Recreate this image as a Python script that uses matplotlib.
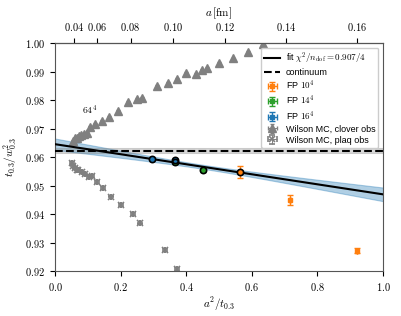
import numpy as np
import matplotlib
matplotlib.use("Agg")
import matplotlib.pyplot as plt
from matplotlib.ticker import FuncFormatter, MultipleLocator

plt.rcParams['mathtext.fontset'] = 'cm'
plt.rcParams['font.family'] = ['Liberation Sans', 'DejaVu Sans']

# ---- data ----
t0_fm2 = 0.0278  # t_0.3 in fm^2 (for top axis)

clover_x = [0.054, 0.060, 0.066, 0.074, 0.080, 0.088, 0.097, 0.107, 0.122, 0.142,
            0.166, 0.193, 0.224, 0.249, 0.264, 0.310, 0.345, 0.371, 0.399, 0.429,
            0.447, 0.464, 0.500, 0.544, 0.589, 0.635]
clover_y = [0.9655, 0.9665, 0.9668, 0.9674, 0.9677, 0.9680, 0.9683, 0.9707, 0.9716, 0.9728,
            0.9741, 0.9762, 0.9792, 0.9803, 0.9808, 0.9850, 0.9861, 0.9873, 0.9894, 0.9892,
            0.9907, 0.9913, 0.9931, 0.9946, 0.9969, 0.9995]

plaq_x = [0.051, 0.056, 0.061, 0.066, 0.071, 0.081, 0.091, 0.104, 0.112, 0.127,
          0.147, 0.171, 0.201, 0.239, 0.259, 0.335, 0.373]
plaq_y = [0.9578, 0.9570, 0.9562, 0.9556, 0.9554, 0.9546, 0.9539, 0.9531, 0.9533, 0.9513,
          0.9490, 0.9461, 0.9432, 0.9400, 0.9367, 0.9274, 0.9207]
wilson_err = 0.0003

fp10_x = [0.564, 0.716, 0.920]
fp10_y = [0.9548, 0.9449, 0.9271]
fp10_e = [0.0021, 0.0018, 0.0008]
fp14_x = [0.366, 0.452]
fp14_y = [0.9582, 0.9556]
fp14_e = [0.0007, 0.0007]
fp16_x = [0.297, 0.366]
fp16_y = [0.9592, 0.9589]
fp16_e = [0.0004, 0.0005]

fitted_x = [0.297, 0.366, 0.366, 0.452, 0.564]
fitted_y = [0.9592, 0.9589, 0.9582, 0.9556, 0.9548]

fit_c0 = 0.9645
fit_c1 = -0.0176
fit_smin = 0.0007
fit_xmin = 0.45
fit_k = 1.73e-5

cont_val = 0.9622
cont_err = 0.0008

# ---- figure ----
fig = plt.figure(figsize=(4.02, 3.16), dpi=100)
ax = fig.add_axes([0.1368, 0.1424, 0.8159, 0.7215])

xs = np.linspace(0, 1, 200)
fit_line = fit_c0 + fit_c1 * xs
fit_sig = np.sqrt(fit_smin**2 + fit_k * (xs - fit_xmin)**2)
ax.fill_between(xs, fit_line - fit_sig, fit_line + fit_sig, color='#1f77b4', alpha=0.35, lw=0.8)
ax.plot(xs, fit_line, color='black', lw=1.5, label=r'fit $\chi^2/n_{\rm dof} = 0.907/4$', zorder=5)

ax.axhspan(cont_val - cont_err, cont_val + cont_err, color='gray', alpha=0.3, lw=0.8)
ax.axhline(cont_val, color='black', ls='--', lw=1.5, label='continuum', zorder=5)

ax.plot(fitted_x, fitted_y, 'o', mfc='none', mec='black', ms=4.5, mew=1.2, zorder=7)

ek = dict(capsize=2, elinewidth=1, ms=3, ls='none', zorder=6)
ax.errorbar(fp10_x, fp10_y, yerr=fp10_e, xerr=0.0, marker='s', color='#ff7f0e', label=r'FP $10^4$', **ek)
ax.errorbar(fp14_x, fp14_y, yerr=fp14_e, xerr=0.0, marker='s', color='#2ca02c', label=r'FP $14^4$', **ek)
ax.errorbar(fp16_x, fp16_y, yerr=fp16_e, xerr=0.0, marker='s', color='#1f77b4', label=r'FP $16^4$', **ek)

ax.errorbar(clover_x, clover_y, yerr=wilson_err, xerr=0.0, marker='^', color='gray', ms=5.5,
            capsize=1.5, elinewidth=0.7, ls='none', label='Wilson MC, clover obs')
ax.errorbar(plaq_x, plaq_y, yerr=wilson_err, xerr=0.0, marker='x', color='gray', ms=5,
            mew=1.2, capsize=2, elinewidth=0.7, ls='none', label='Wilson MC, plaq obs')

ax.text(0.107, 0.9765, r'$64^4$', fontsize=7, ha='center', va='center')

ax.set_xlim(0, 1)
ax.set_ylim(0.92, 1.00)
ax.xaxis.set_major_locator(MultipleLocator(0.2))
ax.yaxis.set_major_locator(MultipleLocator(0.01))
ax.xaxis.set_major_formatter(FuncFormatter(lambda v, p: r'$%.1f$' % v))
ax.yaxis.set_major_formatter(FuncFormatter(lambda v, p: r'$%.2f$' % v))
ax.tick_params(labelsize=7.5, direction='out', length=3.5)
ax.set_xlabel(r'$a^2/t_{0.3}$', fontsize=8, labelpad=2)
ax.set_ylabel(r'$t_{0.3}/w_{0.3}^2$', fontsize=8, labelpad=4)

sec = ax.secondary_xaxis('top', functions=(lambda x: np.sqrt(np.clip(x, 0, None) * t0_fm2),
                                            lambda a: np.asarray(a)**2 / t0_fm2))
sec.set_xticks([0.04, 0.06, 0.08, 0.10, 0.12, 0.14, 0.16])
sec.xaxis.set_major_formatter(FuncFormatter(lambda v, p: r'$%.2f$' % v))
sec.tick_params(labelsize=7.5, direction='out', length=3.5)
sec.set_xlabel(r'$a\,[\mathrm{fm}]$', fontsize=8, labelpad=3.5)

for s in ax.spines.values():
    s.set_color('#555555')

leg = ax.legend(loc='upper right', fontsize=6.5, framealpha=1, handlelength=1.8,
                handletextpad=0.6, borderpad=0.35, labelspacing=0.22, borderaxespad=0.5)

fig.savefig('out.png', dpi=100)
